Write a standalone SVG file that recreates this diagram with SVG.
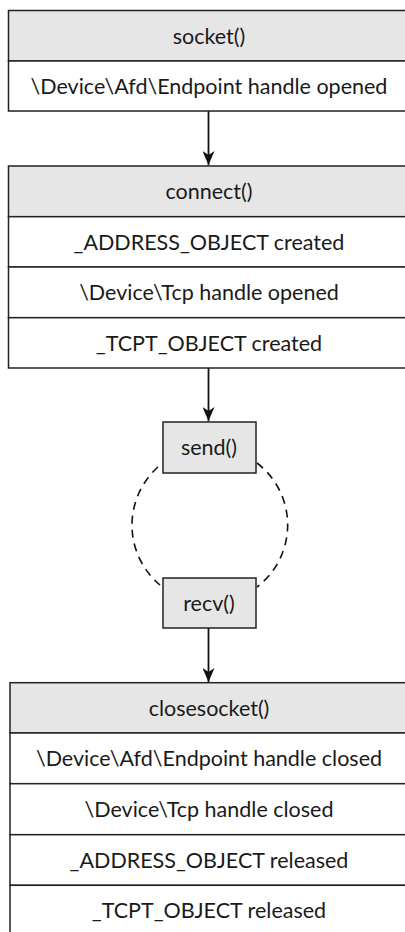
<svg xmlns="http://www.w3.org/2000/svg" width="405" height="932" viewBox="0 0 405 932">
<defs>
<style>
.box{fill:#ffffff;stroke:#222;stroke-width:1.5}
.hdr{fill:#e6e6e6;stroke:#222;stroke-width:1.5}
.t{font-family:Lato,"Noto Sans",sans-serif;font-size:21.5px;fill:#1a1a1a;text-anchor:middle}
.edge{stroke:#111;stroke-width:1.8;fill:none}
.dash{stroke:#111;stroke-width:1.6;fill:none;stroke-dasharray:8 6}
</style>
<marker id="ah" markerWidth="15" markerHeight="12" refX="14" refY="6" orient="auto" markerUnits="userSpaceOnUse" viewBox="0 0 15 12">
<path d="M0,0 L14,6 L0,12 L4,6 Z" fill="#111"/>
</marker>
</defs>
<rect width="405" height="932" fill="#fff"/>
<g id="connectors">
<line class="edge" x1="208.5" y1="111" x2="208.5" y2="165" marker-end="url(#ah)"/>
<line class="edge" x1="208.5" y1="368" x2="208.5" y2="421" marker-end="url(#ah)"/>
<line class="edge" x1="208.5" y1="628" x2="208.5" y2="682" marker-end="url(#ah)"/>
<path class="dash" d="M158,467 A78,78 0 0 0 160,585"/>
<path class="dash" d="M257,463 A78,78 0 0 1 257,587"/>
</g>
<g id="socket">
<rect class="hdr" x="8.5" y="10.5" width="402" height="50.5"/>
<rect class="box" x="8.5" y="61" width="402" height="50"/>
<text class="t" x="209" y="43.5">socket()</text>
<text class="t" x="209" y="93.5">\Device\Afd\Endpoint handle opened</text>
</g>
<g id="connect">
<rect class="hdr" x="8.5" y="166" width="402" height="50.7"/>
<rect class="box" x="8.5" y="216.7" width="402" height="50.3"/>
<rect class="box" x="8.5" y="267" width="402" height="50.7"/>
<rect class="box" x="8.5" y="317.7" width="402" height="50.3"/>
<text class="t" x="209" y="198.5">connect()</text>
<text class="t" x="209" y="249.5">_ADDRESS_OBJECT created</text>
<text class="t" x="209" y="299.5">\Device\Tcp handle opened</text>
<text class="t" x="209" y="350.5">_TCPT_OBJECT created</text>
</g>
<g id="send">
<rect class="hdr" x="163" y="422" width="93" height="51"/>
<text class="t" x="209" y="454.5">send()</text>
</g>
<g id="recv">
<rect class="hdr" x="163" y="578" width="93" height="50"/>
<text class="t" x="209" y="610.5">recv()</text>
</g>
<g id="closesocket">
<rect class="hdr" x="10" y="682.7" width="400" height="50.3"/>
<rect class="box" x="10" y="733" width="400" height="50.7"/>
<rect class="box" x="10" y="783.7" width="400" height="51"/>
<rect class="box" x="10" y="834.7" width="400" height="50.6"/>
<rect class="box" x="10" y="885.3" width="400" height="60"/>
<text class="t" x="209" y="715.5">closesocket()</text>
<text class="t" x="209" y="765.5">\Device\Afd\Endpoint handle closed</text>
<text class="t" x="209" y="816.5">\Device\Tcp handle closed</text>
<text class="t" x="209" y="867.5">_ADDRESS_OBJECT released</text>
<text class="t" x="209" y="917.5">_TCPT_OBJECT released</text>
</g>
</svg>
